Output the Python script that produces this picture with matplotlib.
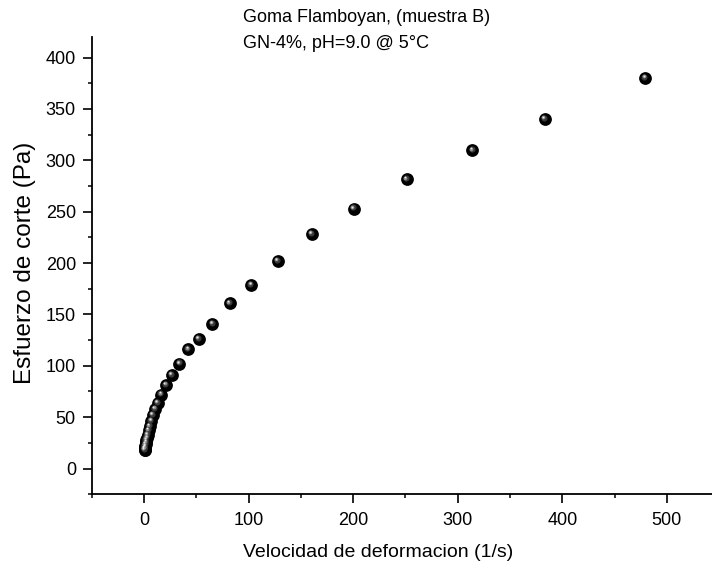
import matplotlib
matplotlib.use("Agg")
import matplotlib.pyplot as plt
from matplotlib.ticker import MultipleLocator
from matplotlib.transforms import ScaledTranslation

plt.rcParams['font.family'] = ['Liberation Sans', 'DejaVu Sans']

shear_rate = [479, 383, 314, 251, 200.5, 160.3, 127.8, 102.2, 81.8, 65.3, 52.2,
              41.9, 33.7, 26.3, 20.8, 16.4, 12.8, 10.2, 8.2, 6.5, 5.2, 4.2, 3.3,
              2.7, 2.1, 1.7, 1.4, 1.1, 0.9, 0.7, 0.55, 0.45]
shear_stress = [380, 340, 309.6, 281.4, 253, 228, 202, 178.7, 160.8, 140.8, 125.8,
                116, 102, 90.8, 81, 72, 64, 58, 52, 46, 41, 37, 33,
                30, 27.5, 25.5, 23.5, 22, 20.5, 19.5, 18.5, 18]

title_lines = ["Goma Flamboyan, (muestra B)", "GN-4%, pH=9.0 @ 5°C"]
xlabel = "Velocidad de deformacion (1/s)"
ylabel = "Esfuerzo de corte (Pa)"

fig = plt.figure(figsize=(7.12, 5.70), dpi=100)
ax = fig.add_axes([0.129, 0.133, 0.881, 0.802])

# sphere-like markers: base, shading, highlight
ax.plot(shear_rate, shear_stress, 'o', ms=9.2, color='black', mec='black', mew=0, zorder=3)
t1 = ax.transData + ScaledTranslation(-0.6/72, 0.9/72, fig.dpi_scale_trans)
ax.plot(shear_rate, shear_stress, 'o', ms=4.4, color='#3a3a3a', mew=0, transform=t1, zorder=4)
t2 = ax.transData + ScaledTranslation(-0.9/72, 1.3/72, fig.dpi_scale_trans)
ax.plot(shear_rate, shear_stress, 'o', ms=2.7, color='#8a8a8a', mew=0, transform=t2, zorder=5)
t3 = ax.transData + ScaledTranslation(-1.0/72, 1.5/72, fig.dpi_scale_trans)
ax.plot(shear_rate, shear_stress, 'o', ms=1.3, color='#e8e8e8', mew=0, transform=t3, zorder=6)

ax.set_xlim(-50, 550)
ax.set_ylim(-25, 420)
ax.xaxis.set_major_locator(MultipleLocator(100))
ax.xaxis.set_minor_locator(MultipleLocator(50))
ax.yaxis.set_major_locator(MultipleLocator(50))
ax.yaxis.set_minor_locator(MultipleLocator(25))

for s in ['top', 'right']:
    ax.spines[s].set_visible(False)
for s in ['left', 'bottom']:
    ax.spines[s].set_linewidth(1.3)

ax.tick_params(which='major', direction='out', length=6.5, width=1.2, labelsize=13)
ax.tick_params(which='minor', direction='out', length=3, width=1.1)
ax.tick_params(axis='x', which='major', pad=6)
ax.tick_params(axis='y', which='major', pad=5)

ax.set_xlabel(xlabel, fontsize=14)
ax.set_ylabel(ylabel, fontsize=17.5)
ax.xaxis.set_label_coords(0.457, -0.127)
ax.xaxis.label.set_va('center')
ax.yaxis.set_label_coords(-0.107, 0.505)
ax.yaxis.label.set_va('center')

fig.text(243/712, 1 - 18/570, title_lines[0], fontsize=13, ha='left', va='center')
fig.text(243/712, 1 - 43/570, title_lines[1], fontsize=13, ha='left', va='center')

fig.savefig("out.png", dpi=100)
